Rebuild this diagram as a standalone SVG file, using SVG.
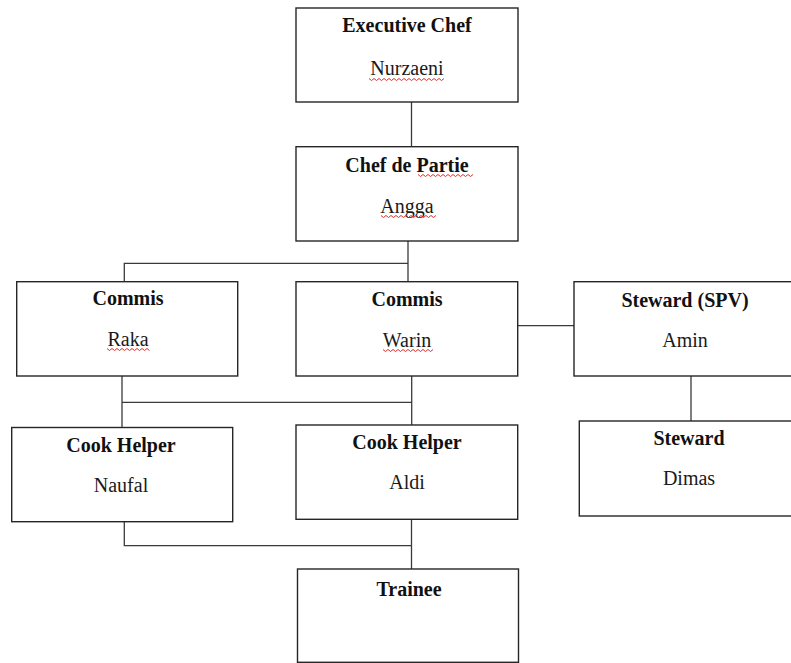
<svg xmlns="http://www.w3.org/2000/svg" width="791" height="663" viewBox="0 0 791 663">
  <style>
    .box { fill: #ffffff; stroke: #262626; stroke-width: 1.4; }
    .ln { fill: none; stroke: #3a3a3a; stroke-width: 1.3; }
    .t { font-family: "Liberation Serif", "Times New Roman", serif; font-size: 20px; font-weight: bold; fill: #111111; text-anchor: middle; }
    .n { font-family: "Liberation Serif", "Times New Roman", serif; font-size: 20px; fill: #1a1a1a; text-anchor: middle; }
    .sq { fill: none; stroke: #d9302a; stroke-width: 1; }
  </style>
  <rect width="791" height="663" fill="#ffffff"/>
  <g id="connectors">
    <path class="ln" d="M411.5 102 V146.7"/>
    <path class="ln" d="M408 241 V281.7"/>
    <path class="ln" d="M124.3 281.7 V263.3 H408"/>
    <path class="ln" d="M517.7 325.7 H574"/>
    <path class="ln" d="M122 376 V428"/>
    <path class="ln" d="M122 402.3 H411.7"/>
    <path class="ln" d="M411.7 376 V425"/>
    <path class="ln" d="M691 376 V421"/>
    <path class="ln" d="M124.3 521.7 V545.7 H411.5"/>
    <path class="ln" d="M411.5 519.3 V569"/>
  </g>
  <g id="executive-chef">
    <rect class="box" x="296" y="8" width="222" height="94"/>
    <text class="t" x="407" y="32">Executive Chef</text>
    <text class="n" x="407" y="75">Nurzaeni</text>
    <path class="sq" d="M369 78.5 l2.5 2 l2.5 -2 l2.5 2 l2.5 -2 l2.5 2 l2.5 -2 l2.5 2 l2.5 -2 l2.5 2 l2.5 -2 l2.5 2 l2.5 -2 l2.5 2 l2.5 -2 l2.5 2 l2.5 -2 l2.5 2 l2.5 -2 l2.5 2 l2.5 -2 l2.5 2 l2.5 -2 l2.5 2 l2.5 -2 l2.5 2 l2.5 -2 l2.5 2 l2.5 -2 l2.5 2 l2.5 -2"/>
  </g>
  <g id="chef-de-partie">
    <rect class="box" x="296" y="146.7" width="222" height="94.3"/>
    <text class="t" x="407" y="171.5">Chef de Partie</text>
    <text class="n" x="407" y="212.5">Angga</text>
    <path class="sq" d="M418 174.5 l2.5 2 l2.5 -2 l2.5 2 l2.5 -2 l2.5 2 l2.5 -2 l2.5 2 l2.5 -2 l2.5 2 l2.5 -2 l2.5 2 l2.5 -2 l2.5 2 l2.5 -2 l2.5 2 l2.5 -2 l2.5 2 l2.5 -2 l2.5 2 l2.5 -2 l2.5 2 l2.5 -2"/>
    <path class="sq" d="M381 215.5 l2.5 2 l2.5 -2 l2.5 2 l2.5 -2 l2.5 2 l2.5 -2 l2.5 2 l2.5 -2 l2.5 2 l2.5 -2 l2.5 2 l2.5 -2 l2.5 2 l2.5 -2 l2.5 2 l2.5 -2 l2.5 2 l2.5 -2 l2.5 2 l2.5 -2 l2.5 2 l2.5 -2"/>
  </g>
  <g id="commis-raka">
    <rect class="box" x="16.7" y="281.7" width="221" height="94.3"/>
    <text class="t" x="128" y="305">Commis</text>
    <text class="n" x="128" y="346">Raka</text>
    <path class="sq" d="M107 348.5 l2.5 2 l2.5 -2 l2.5 2 l2.5 -2 l2.5 2 l2.5 -2 l2.5 2 l2.5 -2 l2.5 2 l2.5 -2 l2.5 2 l2.5 -2 l2.5 2 l2.5 -2 l2.5 2 l2.5 -2 l2.5 2"/>
  </g>
  <g id="commis-warin">
    <rect class="box" x="296" y="281.7" width="221.7" height="94.3"/>
    <text class="t" x="407" y="306">Commis</text>
    <text class="n" x="407" y="347">Warin</text>
    <path class="sq" d="M383 349.5 l2.5 2 l2.5 -2 l2.5 2 l2.5 -2 l2.5 2 l2.5 -2 l2.5 2 l2.5 -2 l2.5 2 l2.5 -2 l2.5 2 l2.5 -2 l2.5 2 l2.5 -2 l2.5 2 l2.5 -2 l2.5 2 l2.5 -2 l2.5 2 l2.5 -2"/>
  </g>
  <g id="steward-spv">
    <rect class="box" x="574" y="281.7" width="222" height="94.3"/>
    <text class="t" x="685" y="306.5">Steward (SPV)</text>
    <text class="n" x="685" y="347">Amin</text>
  </g>
  <g id="cook-helper-naufal">
    <rect class="box" x="11.7" y="427.5" width="221" height="94.2"/>
    <text class="t" x="121" y="451.7">Cook Helper</text>
    <text class="n" x="121" y="491.7">Naufal</text>
  </g>
  <g id="cook-helper-aldi">
    <rect class="box" x="296" y="425" width="221.7" height="94.3"/>
    <text class="t" x="407" y="449.3">Cook Helper</text>
    <text class="n" x="407" y="489.3">Aldi</text>
  </g>
  <g id="steward-dimas">
    <rect class="box" x="579.3" y="421" width="221" height="95"/>
    <text class="t" x="689" y="445.3">Steward</text>
    <text class="n" x="689" y="485">Dimas</text>
  </g>
  <g id="trainee">
    <rect class="box" x="297.5" y="569" width="221" height="93.3"/>
    <text class="t" x="409" y="595.5">Trainee</text>
  </g>
</svg>
